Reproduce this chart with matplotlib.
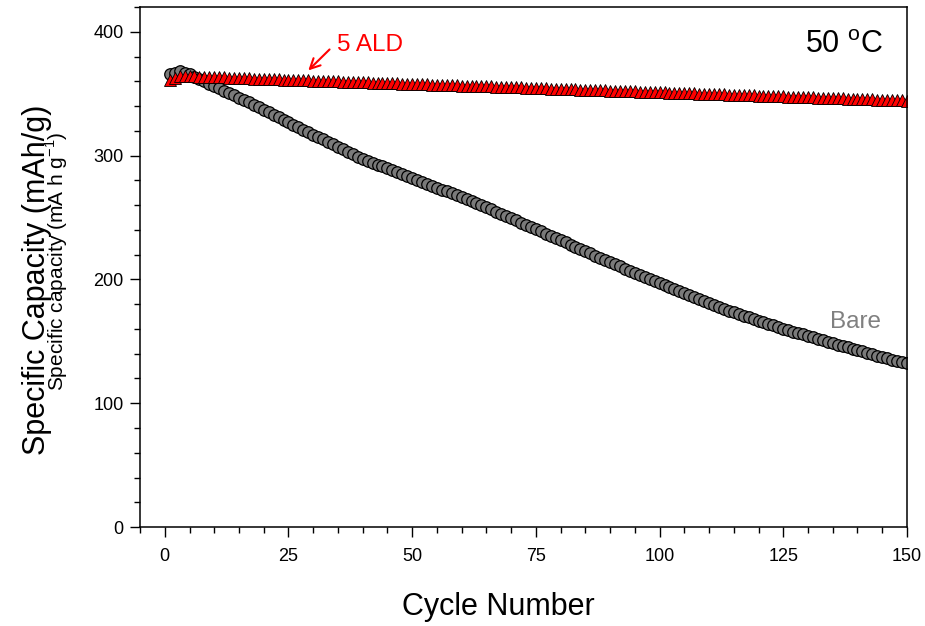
import numpy as np
import matplotlib
matplotlib.use('Agg')
import matplotlib.pyplot as plt
from matplotlib.ticker import MultipleLocator

plt.rcParams['font.family'] = ['Liberation Sans', 'DejaVu Sans']
plt.rcParams['mathtext.fontset'] = 'custom'
plt.rcParams['mathtext.rm'] = 'Liberation Sans'

# cycle index
cycles = np.arange(1, 151)

# bare electrode, capacity in mAh/g
bare = [
    366.0, 367.0, 368.0, 367.0, 365.5, 363.8, 362.0, 360.1, 358.2, 356.3,
    354.4, 352.5, 350.6, 348.7, 346.8, 344.9, 343.0, 341.0, 339.0, 337.0,
    335.0, 333.0, 331.0, 329.0, 327.0, 325.0, 323.0, 321.0, 319.0, 317.0,
    315.0, 313.0, 311.0, 309.0, 307.0, 305.0, 303.0, 301.0, 299.0, 297.5,
    295.9, 294.4, 292.8, 291.3, 289.7, 288.2, 286.6, 285.1, 283.5, 282.0,
    280.4, 278.9, 277.3, 275.7, 274.1, 272.6, 271.0, 269.4, 267.9, 266.3,
    264.7, 263.1, 261.6, 260.0, 258.2, 256.5, 254.7, 252.9, 251.2, 249.4,
    247.6, 245.8, 244.1, 242.3, 240.5, 238.8, 237.0, 235.2, 233.4, 231.7,
    229.9, 228.1, 226.4, 224.6, 222.8, 221.1, 219.3, 217.5, 215.8, 214.0,
    212.3, 210.5, 208.8, 207.1, 205.4, 203.8, 202.1, 200.4, 198.7, 197.0,
    195.4, 193.8, 192.2, 190.6, 189.0, 187.4, 185.8, 184.2, 182.6, 181.0,
    179.3, 177.6, 176.2, 174.8, 173.4, 172.0, 170.6, 169.3, 168.0, 166.7,
    165.4, 164.1, 162.8, 161.5, 160.3, 159.1, 157.9, 156.7, 155.5, 154.3,
    153.1, 151.9, 150.7, 149.5, 148.4, 147.3, 146.2, 145.1, 144.0, 142.9,
    141.8, 140.7, 139.6, 138.5, 137.4, 136.3, 135.2, 134.2, 133.2, 132.2,
]

# 5 ALD coated electrode
ald5 = [
    361.0, 363.0, 364.0, 364.2, 364.0, 363.9, 363.7, 363.6, 363.5, 363.3,
    363.2, 363.1, 362.9, 362.8, 362.7, 362.5, 362.4, 362.2, 362.1, 362.0,
    361.8, 361.7, 361.6, 361.4, 361.3, 361.2, 361.0, 360.9, 360.8, 360.6,
    360.5, 360.4, 360.2, 360.1, 360.0, 359.8, 359.7, 359.5, 359.4, 359.3,
    359.1, 359.0, 358.9, 358.7, 358.6, 358.5, 358.3, 358.2, 358.1, 357.9,
    357.8, 357.7, 357.5, 357.4, 357.3, 357.1, 357.0, 356.8, 356.7, 356.6,
    356.4, 356.3, 356.2, 356.0, 355.9, 355.8, 355.6, 355.5, 355.4, 355.2,
    355.1, 355.0, 354.8, 354.7, 354.6, 354.4, 354.3, 354.1, 354.0, 353.9,
    353.7, 353.6, 353.5, 353.3, 353.2, 353.1, 352.9, 352.8, 352.7, 352.5,
    352.4, 352.3, 352.1, 352.0, 351.9, 351.7, 351.6, 351.4, 351.3, 351.2,
    351.0, 350.9, 350.8, 350.6, 350.5, 350.4, 350.2, 350.1, 350.0, 349.8,
    349.7, 349.6, 349.4, 349.3, 349.2, 349.0, 348.9, 348.7, 348.6, 348.5,
    348.3, 348.2, 348.1, 347.9, 347.8, 347.7, 347.5, 347.4, 347.3, 347.1,
    347.0, 346.9, 346.7, 346.6, 346.5, 346.3, 346.2, 346.0, 345.9, 345.8,
    345.6, 345.5, 345.4, 345.2, 345.1, 345.0, 344.8, 344.7, 344.6, 344.4,
]

x_ticks = [0, 25, 50, 75, 100, 125, 150]
y_ticks = [0, 100, 200, 300, 400]

fig = plt.figure(figsize=(9.25, 6.26), dpi=100)
ax = fig.add_axes([0.1514, 0.1581, 0.8291, 0.8307])

ax.plot(cycles, bare, linestyle='none', marker='o', markersize=8.3,
        markerfacecolor='#7a7a7a', markeredgecolor='black', markeredgewidth=0.9)
ax.plot(cycles, ald5, linestyle='none', marker='^', markersize=8.5,
        markerfacecolor='#ff0000', markeredgecolor='black', markeredgewidth=0.6)

ax.set_xlim(-5, 150)
ax.set_ylim(0, 420)
ax.set_xticks(x_ticks)
ax.set_yticks(y_ticks)
ax.xaxis.set_minor_locator(MultipleLocator(5))
ax.yaxis.set_minor_locator(MultipleLocator(20))

ax.tick_params(which='major', direction='out', length=7, width=1.0, pad=5)
ax.tick_params(which='minor', direction='out', length=4, width=1.0)
ax.tick_params(axis='y', labelsize=13)
ax.tick_params(axis='x', labelsize=13, pad=8)
ax.tick_params(top=False, right=False, which='both')
for s in ax.spines.values():
    s.set_linewidth(1.1)

# axis titles (the two y titles overlap in the original figure too)
fig.text(498 / 925, 1 - 607 / 626, 'Cycle Number', fontsize=22,
         ha='center', va='center')
fig.text(37 / 925, 1 - 280 / 626, 'Specific Capacity (mAh/g)', fontsize=22,
         rotation=90, ha='center', va='center')
fig.text(57 / 925, 1 - 261 / 626, r'Specific capacity (mA h g$^{-1}$)',
         fontsize=15, rotation=90, ha='center', va='center')

# annotations
ax.text(145.1, 383, r'50 $^{\mathrm{o}}$C', fontsize=22, ha='right', va='baseline')
ax.text(134.4, 165.7, 'Bare', fontsize=17.5, color='#808080', ha='left', va='center')
ax.annotate('', xy=(28.6, 367.2), xytext=(33.7, 387.3),
            arrowprops=dict(arrowstyle='->', color='red', lw=1.5,
                            mutation_scale=18))
ax.text(34.8, 389.1, '5 ALD', fontsize=17.5, color='red', ha='left', va='center')

fig.savefig('out.png', dpi=100)
